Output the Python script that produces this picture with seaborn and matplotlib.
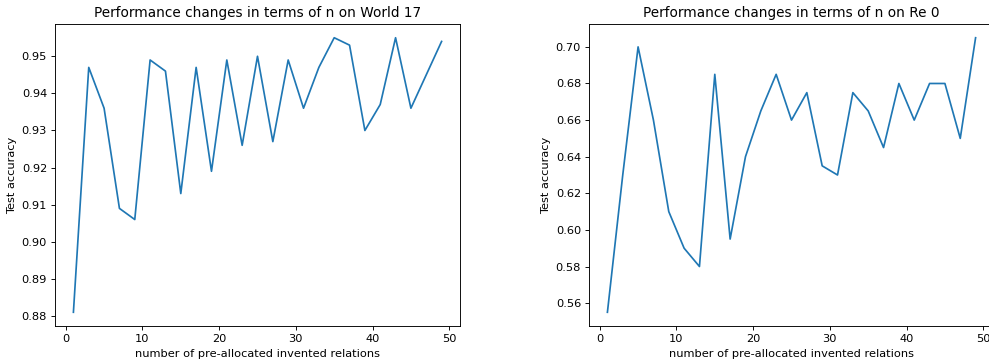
import matplotlib
matplotlib.use('Agg')
import matplotlib.pyplot as plt
import pandas as pd
import seaborn as sns

n_values = list(range(1, 50, 2))

acc_world17 = [0.881, 0.947, 0.936, 0.909, 0.906, 0.949, 0.946, 0.913, 0.947, 0.919,
               0.949, 0.926, 0.950, 0.927, 0.949, 0.936, 0.947, 0.955, 0.953, 0.930,
               0.937, 0.955, 0.936, 0.945, 0.954]

acc_re0 = [0.555, 0.630, 0.700, 0.660, 0.610, 0.590, 0.580, 0.685, 0.595, 0.640,
           0.665, 0.685, 0.660, 0.675, 0.635, 0.630, 0.675, 0.665, 0.645, 0.680,
           0.660, 0.680, 0.680, 0.650, 0.705]

titles = ['Performance changes in terms of n on World 17',
          'Performance changes in terms of n on Re 0']

df_w = pd.DataFrame({'n': n_values, 'acc': acc_world17})
df_r = pd.DataFrame({'n': n_values, 'acc': acc_re0})

# render at a lower dpi so all default sizes shrink together like the original
DPI = 82
fig = plt.figure(figsize=(990 / DPI, 360 / DPI), dpi=DPI)
ax1 = fig.add_axes([55 / 990, 1 - 326 / 360, 405 / 990, 302 / 360])
ax2 = fig.add_axes([589 / 990, 1 - 326 / 360, 405 / 990, 302 / 360])

for ax, d, t in zip([ax1, ax2], [df_w, df_r], titles):
    sns.lineplot(data=d, x='n', y='acc', ax=ax, color='#1f77b4', linewidth=1.5)
    ax.set_title(t)
    ax.set_xlabel('number of pre-allocated invented relations')
    ax.set_ylabel('Test accuracy')
    ax.set_xticks([0, 10, 20, 30, 40, 50])

fig.savefig('out.png', dpi=DPI)
